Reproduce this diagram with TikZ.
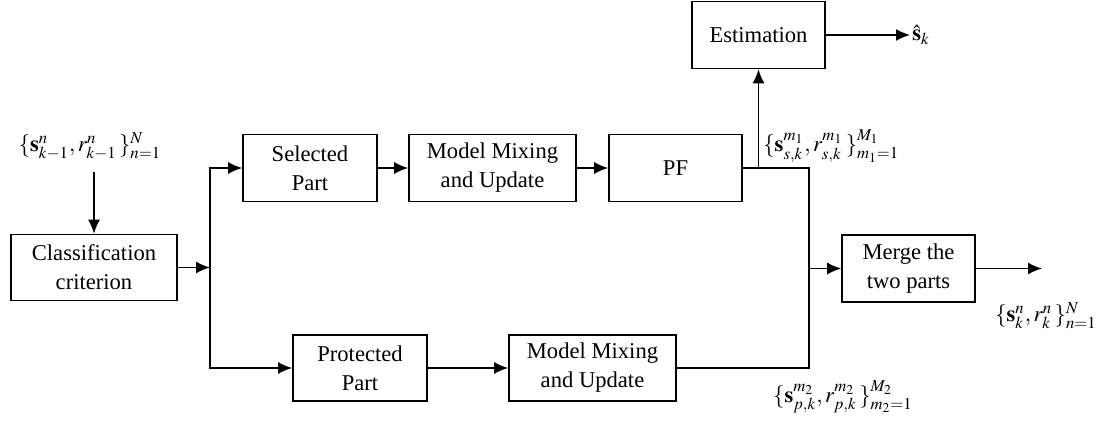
\documentclass[tikz,border=0pt]{standalone}
\usepackage{mathptmx}
\usepackage[no-math]{fontspec}
\setmainfont{Liberation Serif}
\usetikzlibrary{arrows.meta,positioning}

\begin{document}
\begin{tikzpicture}[x=0.5pt,y=-0.5pt,font=\fontsize{11.3}{14.5}\selectfont,
    blk/.style={draw,line width=0.8pt,align=center,inner sep=2pt,minimum width=66.5pt,minimum height=33.5pt},
    flow/.style={line width=0.8pt,-{Latex[length=7pt,width=6pt]}},
    lnk/.style={line width=0.8pt}]
  \useasboundingbox (0,0) rectangle (1101,421);

  % blocks
  \node[blk,minimum width=83pt,minimum height=33pt] (cls) at (94,267.5) {Classification\\criterion};
  \node[blk,minimum width=67pt] (sel) at (310,168) {Selected\\Part};
  \node[blk,minimum width=83.5pt] (mixa) at (492.5,168) {Model Mixing\\and Update};
  \node[blk] (pf) at (675.5,168) {PF};
  \node[blk,minimum width=67pt,minimum height=33pt] (prot) at (360,368) {Protected\\Part};
  \node[blk,minimum width=83.5pt,minimum height=33pt] (mixb) at (592.5,368) {Model Mixing\\and Update};
  \node[blk] (est) at (758.5,35) {Estimation};
  \node[blk] (merge) at (908.5,268.5) {Merge the\\two parts};

  % labels
  \node (inp) at (90,146) {$\{\mathbf{s}_{k-1}^{n},r_{k-1}^{n}\,\}_{n=1}^{N}$};
  \node[anchor=west,inner sep=1pt] (shat) at (910,35) {$\hat{\mathbf{s}}_{k}$};
  \node[anchor=west,inner sep=1pt] (sell) at (761,146) {$\{\mathbf{s}_{s,k}^{m_1},r_{s,k}^{m_1}\,\}_{m_1=1}^{M_1}$};
  \node (protl) at (843,397) {$\{\mathbf{s}_{p,k}^{m_2},r_{p,k}^{m_2}\,\}_{m_2=1}^{M_2}$};
  \node (outl) at (1046,316) {$\{\mathbf{s}_{k}^{n},r_{k}^{n}\,\}_{n=1}^{N}$};

  \coordinate (br) at (210,267.5);
  \coordinate (jn) at (809,268.5);
  \coordinate (out) at (1042,268.5);

  % connectors
  \draw[flow] (inp.south -| cls.north) ++(0,5) -- (cls.north);
  \draw[flow] (cls.east) -- (br);
  \draw[flow] (br) |- (sel.west);
  \draw[flow] (br) |- (prot.west);
  \draw[flow] (sel) -- (mixa);
  \draw[flow] (mixa) -- (pf);
  \draw[flow] (prot) -- (mixb);
  \draw[lnk] (pf.east) -| (jn);
  \draw[lnk] (mixb.east) -| (jn);
  \draw[flow] (jn) -- (merge.west);
  \draw[flow] (est.south |- pf.east) -- (est.south);
  \draw[flow] (est.east) -- (shat.west);
  \draw[flow] (merge.east) -- (out);
\end{tikzpicture}
\end{document}
